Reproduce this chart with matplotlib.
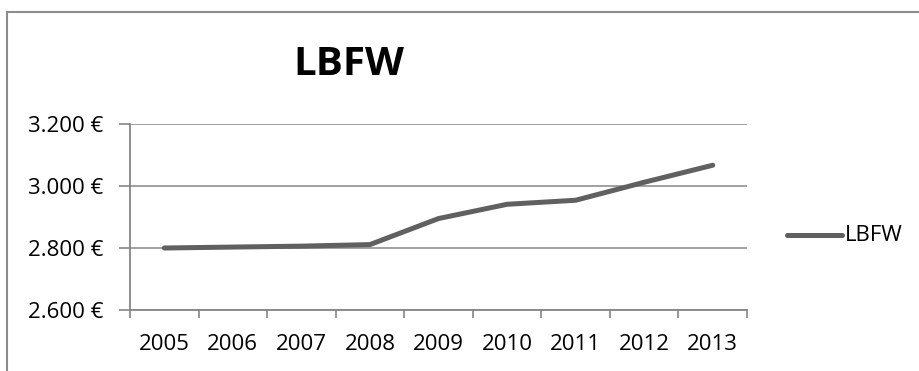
import matplotlib
matplotlib.use('Agg')
import matplotlib.pyplot as plt
import numpy as np
from matplotlib.lines import Line2D

years = ['2005', '2006', '2007', '2008', '2009', '2010', '2011', '2012', '2013']
lbfw = [2800, 2803, 2806, 2811, 2895, 2941, 2954, 3012, 3067]
yticks = [2600, 2800, 3000, 3200]

plt.rcParams['font.family'] = ['Open Sans', 'DejaVu Sans']
grid_col = '#868686'
line_col = '#606060'
fs = 16

fig = plt.figure(figsize=(9.2, 3.71), dpi=100)
ax = fig.add_axes([130/920, 1 - 310/371, (747 - 130)/920, (310 - 124)/371])

x = np.arange(len(years))
ax.plot(x, lbfw, color=line_col, lw=3.6, solid_capstyle='round', solid_joinstyle='round',
        label='LBFW', zorder=3)

ax.set_xlim(-0.5, len(years) - 0.5)
ax.set_ylim(yticks[0], yticks[-1])
ax.set_yticks(yticks)
ax.set_yticklabels([f'{v:,}'.replace(',', '.') + ' €' for v in yticks], fontsize=fs)
ax.set_xticks(x)
ax.set_xticklabels(years, fontsize=fs)
ax.set_xticks(np.arange(-0.5, len(years)), minor=True)
ax.tick_params(axis='x', which='major', length=0, pad=17)
ax.tick_params(axis='x', which='minor', length=6, color=grid_col, width=1.2)
ax.tick_params(axis='y', length=8, color=grid_col, width=1.2, pad=11)

ax.grid(axis='y', color=grid_col, lw=1.1)
for side in ['top', 'right']:
    ax.spines[side].set_visible(False)
for side in ['left', 'bottom']:
    ax.spines[side].set_color(grid_col)
    ax.spines[side].set_linewidth(1.3)

fig.text(349/920, 1 - 75/371, 'LBFW', fontsize=29, fontweight='bold', ha='center', va='baseline')

# legend entry on the right
fig.add_artist(Line2D([787/920, 842/920], [1 - 235/371, 1 - 235/371], color=line_col, lw=3.6,
                      solid_capstyle='round', transform=fig.transFigure))
fig.text(845/920, 1 - 235/371, 'LBFW', fontsize=fs, ha='left', va='center')

# chart frame
fig.add_artist(Line2D([7/920, 7/920], [0, 1 - 12/371], color='#8c8c8c', lw=1.5,
                      transform=fig.transFigure))
fig.add_artist(Line2D([7/920, 1], [1 - 12/371, 1 - 12/371], color='#8c8c8c', lw=1.5,
                      transform=fig.transFigure))

fig.savefig('out.png', dpi=100, facecolor='white')
